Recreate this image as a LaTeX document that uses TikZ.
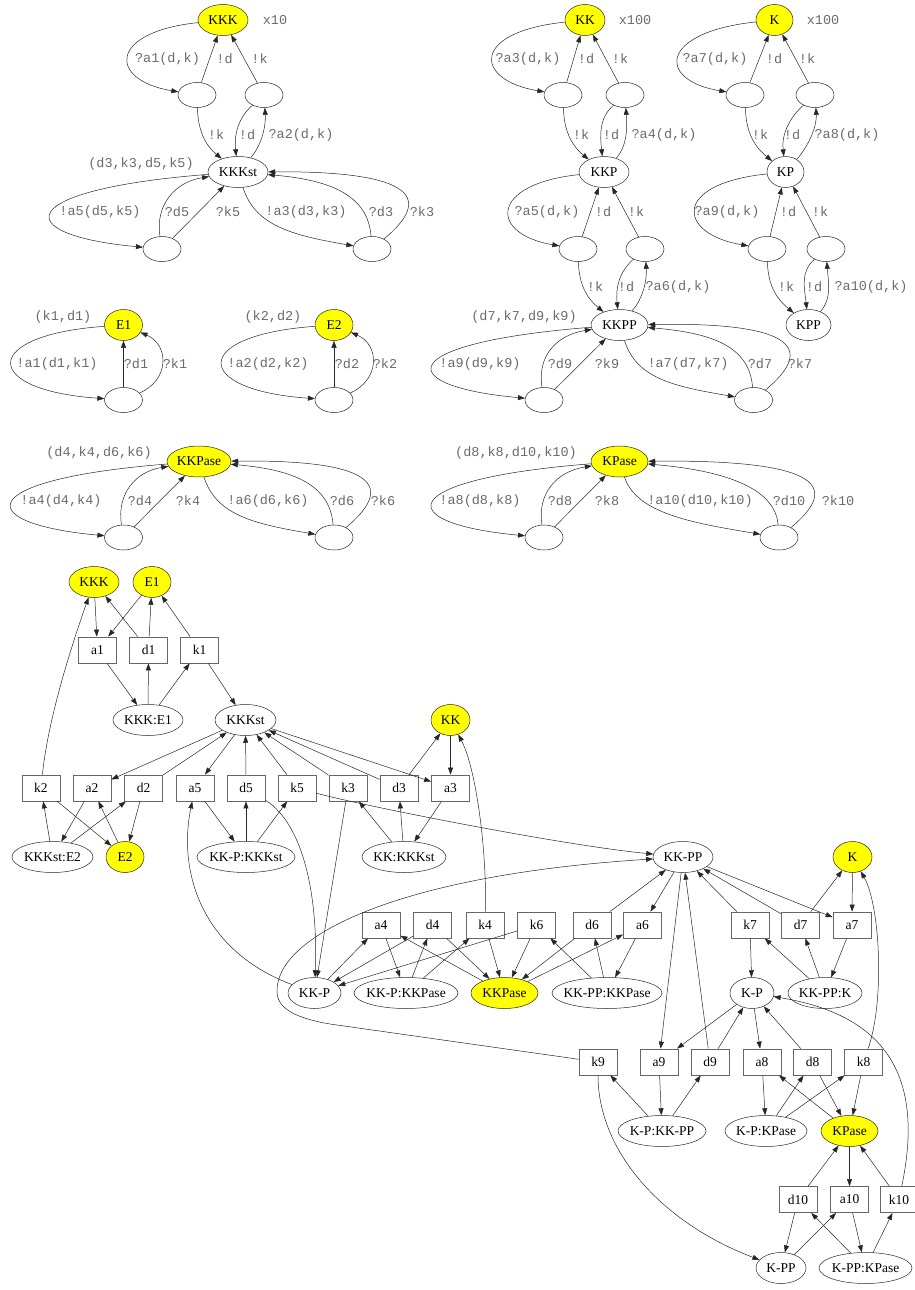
\documentclass[tikz,border=0pt]{standalone}
\usepackage{fontspec}
\setmainfont{Liberation Serif}
\newfontfamily\labfont{Liberation Mono}
\usetikzlibrary{shapes.geometric,arrows.meta,calc}
\definecolor{labgray}{gray}{0.42}
\definecolor{hi}{RGB}{255,255,0}
% zero-width text so that ellipse sizes are set by the style only
\newcommand\nt[1]{\makebox[0pt]{#1}}
\tikzset{
  base/.style={inner sep=0pt, font=\fontsize{13.5}{16}\selectfont},
  sn/.style={base, ellipse, draw=black!85, line width=0.5pt, minimum height=31pt},
  es/.style={ellipse, draw=black!85, line width=0.5pt, minimum width=38pt, minimum height=25pt, inner sep=0pt},
  yel/.style={fill=hi},
  bx/.style={base, rectangle, draw=black!60, line width=0.8pt, minimum width=38pt, minimum height=26pt},
  lab/.style={font=\labfont\fontsize{13.5}{16}\selectfont, text=labgray, inner sep=0pt},
  e/.style={draw=black!85, line width=0.5pt, -{Triangle[length=7pt,width=5pt]}},
}
% process skeletons: receive / reply pair between two states
\newcommand\uppart[4]{%
  \draw[e] (#1) .. controls ($(#1)+(-115,12)$) and ($(#2)+(-89,-15)$) .. (#2);
  \draw[e] (#2) -- (#1);
  \draw[e] (#3) -- (#1);
  \draw[e] (#2) .. controls ($(#2)+(1,35)$) and ($(#4)+(-33,-27)$) .. (#4);
  \draw[e] (#3) .. controls ($(#3)+(-26,23)$) and ($(#4)+(-4,-37)$) .. (#4);
  \draw[e] (#4) .. controls ($(#4)+(24,-27)$) and ($(#3)+(2,30)$) .. (#3);
}
% state offering two actions, each answered by two channels
\newcommand\lowpart[3]{%
  \draw[e] (#1) .. controls ($(#1)+(-228,18)$) and ($(#2)+(-152,-14)$) .. (#2);
  \draw[e] (#2) .. controls ($(#2)+(-7,-44)$) and ($(#1)+(-63,10)$) .. (#1);
  \draw[e] (#2) -- (#1);
  \draw[e] (#1) .. controls ($(#1)+(17,53)$) and ($(#3)+(-82,-14)$) .. (#3);
  \draw[e] (#3) .. controls ($(#3)+(-4,-54)$) and ($(#1)+(92,8)$) .. (#1);
  \draw[e] (#3) .. controls ($(#3)+(60,-50)$) and ($(#3)+(45,-78)$) .. (#1);
}
% enzyme: one action answered by two channels
\newcommand\epart[2]{%
  \draw[e] (#1) .. controls ($(#1)+(-143,10)$) and ($(#2)+(-143,-10)$) .. (#2);
  \draw[e] (#2) -- (#1);
  \draw[e] (#2) .. controls ($(#2)+(46,-20)$) and ($(#1)+(46,20)$) .. (#1);
}
\begin{document}
\begin{tikzpicture}[x=1pt,y=-1pt]
\useasboundingbox (0,0) rectangle (915,1290);

% ================= processes =================
% KKK
\node[sn,yel,minimum width=50pt] (tKKK) at (223,20) {\nt{KKK}};
\node[es] (tKKKa) at (197,95) {};
\node[es] (tKKKb) at (264,95) {};
\node[sn,minimum width=60pt] (tKKKst) at (238,172) {\nt{KKKst}};
\node[es] (tKKKstL) at (162,249) {};
\node[es] (tKKKstR) at (372,249) {};
\uppart{tKKK}{tKKKa}{tKKKb}{tKKKst}
\lowpart{tKKKst}{tKKKstL}{tKKKstR}
\node[lab] (l0) at (275,20) {x10};
\node[lab] (l1) at (167.5,59) {?a1(d,k)};
\node[lab] (l2) at (224.5,59) {!d};
\node[lab] (l3) at (259.5,59) {!k};
\node[lab] (l4) at (216,135) {!k};
\node[lab] (l5) at (247,135) {!d};
\node[lab] (l6) at (301,135) {?a2(d,k)};
\node[lab] (l7) at (141,164) {(d3,k3,d5,k5)};
\node[lab] (l8) at (100,212) {!a5(d5,k5)};
\node[lab] (l9) at (177,212) {?d5};
\node[lab] (l10) at (228,212) {?k5};
\node[lab] (l11) at (306,212) {!a3(d3,k3)};
\node[lab] (l12) at (381,212) {?d3};
\node[lab] (l13) at (422,212) {?k3};

% KK
\node[sn,yel,minimum width=40pt] (tKK) at (585,20) {\nt{KK}};
\node[es] (tKKa) at (563,95) {};
\node[es] (tKKb) at (625,95) {};
\node[sn,minimum width=50pt] (tKKP) at (604,172) {\nt{KKP}};
\node[es] (tKKPa) at (578,249) {};
\node[es] (tKKPb) at (645,249) {};
\node[sn,minimum width=57pt] (tKKPP) at (619.5,325) {\nt{KKPP}};
\node[es] (tKKPPL) at (544,400) {};
\node[es] (tKKPPR) at (753.5,400) {};
\uppart{tKK}{tKKa}{tKKb}{tKKP}
\uppart{tKKP}{tKKPa}{tKKPb}{tKKPP}
\lowpart{tKKPP}{tKKPPL}{tKKPPR}
\node[lab] (m0) at (635,20) {x100};
\node[lab] (m1) at (528,59) {?a3(d,k)};
\node[lab] (m2) at (586,59) {!d};
\node[lab] (m3) at (620,59) {!k};
\node[lab] (m4) at (581,135) {!k};
\node[lab] (m5) at (611,135) {!d};
\node[lab] (m6) at (664,135) {?a4(d,k)};
\node[lab] (m7) at (547,212) {?a5(d,k)};
\node[lab] (m8) at (603,212) {!d};
\node[lab] (m9) at (636,212) {!k};
\node[lab] (m10) at (595,287) {!k};
\node[lab] (m11) at (626,287) {!d};
\node[lab] (m12) at (678,287) {?a6(d,k)};
\node[lab] (m13) at (524,317) {(d7,k7,d9,k9)};
\node[lab] (m14) at (480,364) {!a9(d9,k9)};
\node[lab] (m15) at (560,364) {?d9};
\node[lab] (m16) at (607,364) {?k9};
\node[lab] (m17) at (688,364) {!a7(d7,k7)};
\node[lab] (m18) at (760,364) {?d7};
\node[lab] (m19) at (800,364) {?k7};

% K
\node[sn,yel,minimum width=37pt] (tK) at (774.5,20) {\nt{K}};
\node[es] (tKa) at (745,95) {};
\node[es] (tKb) at (815,95) {};
\node[sn,minimum width=37pt] (tKP) at (785.5,172) {\nt{KP}};
\node[es] (tKPa) at (767,249) {};
\node[es] (tKPb) at (826,249) {};
\node[sn,minimum width=45pt] (tKPP) at (808.5,325) {\nt{KPP}};
\uppart{tK}{tKa}{tKb}{tKP}
\uppart{tKP}{tKPa}{tKPb}{tKPP}
\node[lab] (n0) at (823,20) {x100};
\node[lab] (n1) at (715,59) {?a7(d,k)};
\node[lab] (n2) at (774,59) {!d};
\node[lab] (n3) at (807,59) {!k};
\node[lab] (n4) at (760,135) {!k};
\node[lab] (n5) at (792,135) {!d};
\node[lab] (n6) at (847,135) {?a8(d,k)};
\node[lab] (n7) at (727,212) {?a9(d,k)};
\node[lab] (n8) at (788,212) {!d};
\node[lab] (n9) at (820,212) {!k};
\node[lab] (n10) at (786,287) {!k};
\node[lab] (n11) at (814,287) {!d};
\node[lab] (n12) at (871,287) {?a10(d,k)};

% E1, E2
\node[sn,yel,minimum width=38pt] (tE1) at (123.5,325) {\nt{E1}};
\node[es] (tE1b) at (123.5,400) {};
\node[sn,yel,minimum width=38pt] (tE2) at (334,325) {\nt{E2}};
\node[es] (tE2b) at (334,400) {};
\epart{tE1}{tE1b}
\epart{tE2}{tE2b}
\node[lab] (p0) at (63,317) {(k1,d1)};
\node[lab] (p1) at (57,364) {!a1(d1,k1)};
\node[lab] (p2) at (136,364) {?d1};
\node[lab] (p3) at (175,364) {?k1};
\node[lab] (p4) at (273,317) {(k2,d2)};
\node[lab] (p5) at (268,364) {!a2(d2,k2)};
\node[lab] (p6) at (347,364) {?d2};
\node[lab] (p7) at (385,364) {?k2};

% KKPase, KPase
\node[sn,yel,minimum width=64pt] (tKKPase) at (199,461.5) {\nt{KKPase}};
\node[es] (tKKPaseL) at (123.5,537.5) {};
\node[es] (tKKPaseR) at (334,537.5) {};
\lowpart{tKKPase}{tKKPaseL}{tKKPaseR}
\node[sn,yel,minimum width=57pt] (tKPase) at (619.5,461.5) {\nt{KPase}};
\node[es] (tKPaseL) at (544,537.5) {};
\node[es] (tKPaseR) at (779,537.5) {};
\lowpart{tKPase}{tKPaseL}{tKPaseR}
\node[lab] (q0) at (99,453) {(d4,k4,d6,k6)};
\node[lab] (q1) at (61,501) {!a4(d4,k4)};
\node[lab] (q2) at (140,501) {?d4};
\node[lab] (q3) at (188,501) {?k4};
\node[lab] (q4) at (268,501) {!a6(d6,k6)};
\node[lab] (q5) at (342,501) {?d6};
\node[lab] (q6) at (383,501) {?k6};
\node[lab] (r0) at (516,453) {(d8,k8,d10,k10)};
\node[lab] (r1) at (480,501) {!a8(d8,k8)};
\node[lab] (r2) at (560,501) {?d8};
\node[lab] (r3) at (607,501) {?k8};
\node[lab] (r4) at (700,501) {!a10(d10,k10)};
\node[lab] (r5) at (789,501) {?d10};
\node[lab] (r6) at (838,501) {?k10};

% ================= reaction network =================
\node[sn,yel,minimum width=50pt] (gKKK) at (94,582) {\nt{KKK}};
\node[sn,yel,minimum width=38pt] (gE1) at (152,582) {\nt{E1}};
\node[bx] (ga1) at (97.5,650) {a1};
\node[bx] (gd1) at (148.5,650) {d1};
\node[bx] (gk1) at (199.5,650) {k1};
\node[sn,minimum width=70pt] (gKKKE1) at (148,720) {\nt{KKK:E1}};
\node[sn,minimum width=61pt] (gKKKst) at (245.5,720) {\nt{KKKst}};
\node[sn,yel,minimum width=39pt] (gKK) at (450.5,720) {\nt{KK}};
\node[bx] (gk2) at (41,788) {k2};
\node[bx] (ga2) at (92,788) {a2};
\node[bx] (gd2) at (143.5,788) {d2};
\node[bx] (ga5) at (195,788) {a5};
\node[bx] (gd5) at (246,788) {d5};
\node[bx] (gk5) at (297,788) {k5};
\node[bx] (gk3) at (348,788) {k3};
\node[bx] (gd3) at (399,788) {d3};
\node[bx] (ga3) at (450.5,788) {a3};
\node[sn,minimum width=81pt] (gKKKstE2) at (52.5,857) {\nt{KKKst:E2}};
\node[sn,yel,minimum width=38pt] (gE2) at (125,857) {\nt{E2}};
\node[sn,minimum width=98pt] (gKKPKKKst) at (246,857) {\nt{KK-P:KKKst}};
\node[sn,minimum width=84pt] (gKKKKKst) at (404,857) {\nt{KK:KKKst}};
\node[sn,minimum width=60pt] (gKKPP) at (683,857) {\nt{KK-PP}};
\node[sn,yel,minimum width=39pt] (gK) at (852.5,857) {\nt{K}};
\node[bx] (ga4) at (381,925) {a4};
\node[bx] (gd4) at (432.5,925) {d4};
\node[bx] (gk4) at (485,925) {k4};
\node[bx] (gk6) at (536.5,925) {k6};
\node[bx] (gd6) at (592,925) {d6};
\node[bx] (ga6) at (642.5,925) {a6};
\node[bx] (gk7) at (750,925) {k7};
\node[bx] (gd7) at (800.5,925) {d7};
\node[bx] (ga7) at (852,925) {a7};
\node[sn,minimum width=53pt] (gKKP) at (314.5,993) {\nt{KK-P}};
\node[sn,minimum width=104pt] (gKKPKKPase) at (406,993) {\nt{KK-P:KKPase}};
\node[sn,yel,minimum width=67pt] (gKKPase) at (504.5,993) {\nt{KKPase}};
\node[sn,minimum width=110pt] (gKKPPKKPase) at (607,993) {\nt{KK-PP:KKPase}};
\node[sn,minimum width=44pt] (gKP) at (752,993) {\nt{K-P}};
\node[sn,minimum width=74pt] (gKKPPK) at (825,993) {\nt{KK-PP:K}};
\node[bx] (gk9) at (598,1062) {k9};
\node[bx] (ga9) at (659,1062) {a9};
\node[bx] (gd9) at (710,1062) {d9};
\node[bx] (ga8) at (762,1062) {a8};
\node[bx] (gd8) at (812.5,1062) {d8};
\node[bx] (gk8) at (863.5,1062) {k8};
\node[sn,minimum width=88pt] (gKPKKPP) at (662,1131) {\nt{K-P:KK-PP}};
\node[sn,minimum width=82pt] (gKPKPase) at (766,1131) {\nt{K-P:KPase}};
\node[sn,yel,minimum width=57pt] (gKPase) at (849.5,1131) {\nt{KPase}};
\node[bx] (gd10) at (798,1199.5) {d10};
\node[bx] (ga10) at (849.5,1199.5) {a10};
\node[bx] (gk10) at (899,1199.5) {k10};
\node[sn,minimum width=50pt] (gKPP) at (781,1268) {\nt{K-PP}};
\node[sn,minimum width=93pt] (gKPPKPase) at (865.5,1268) {\nt{K-PP:KPase}};

% KKK / E1 complex
\draw[e] (gKKK) -- (ga1);
\draw[e] (gE1) -- (ga1);
\draw[e] (gd1) -- (gKKK);
\draw[e] (gd1) -- (gE1);
\draw[e] (gk1) -- (gE1);
\draw[e] (ga1) -- (gKKKE1);
\draw[e] (gKKKE1) -- (gd1);
\draw[e] (gKKKE1) -- (gk1);
\draw[e] (gk1) -- (gKKKst);
\draw[e] (gk2) .. controls (48,720) and (70,650) .. (gKKK);
% KKKst with E2, KK and KK-P
\draw[e] (gKKKst) -- (ga2);
\draw[e] (gd2) -- (gKKKst);
\draw[e] (gKKKst) -- (ga5);
\draw[e] (gd5) -- (gKKKst);
\draw[e] (gk5) -- (gKKKst);
\draw[e] (gk3) -- (gKKKst);
\draw[e] (gd3) -- (gKKKst);
\draw[e] (gKKKst) -- (ga3);
\draw[e] (gd3) -- (gKK);
\draw[e] (gKK) -- (ga3);
\draw[e] (gk4) .. controls (487,850) and (476,768) .. (gKK);
\draw[e] (gk2) -- (gE2);
\draw[e] (gKKKstE2) -- (gk2);
\draw[e] (ga2) -- (gKKKstE2);
\draw[e] (gKKKstE2) -- (gd2);
\draw[e] (gE2) -- (ga2);
\draw[e] (gd2) -- (gE2);
\draw[e] (ga5) -- (gKKPKKKst);
\draw[e] (gKKPKKKst) -- (gd5);
\draw[e] (gKKPKKKst) -- (gk5);
\draw[e] (gd5) .. controls (305,825) and (318,900) .. (gKKP);
\draw[e] (gk3) -- (gKKP);
\draw[e] (gKKKKKst) -- (gk3);
\draw[e] (gKKKKKst) -- (gd3);
\draw[e] (ga3) -- (gKKKKKst);
\draw[e] (gk5) .. controls (360,805) and (560,845) .. (gKKPP);
\draw[e] (gKKP) .. controls (200,950) and (178,870) .. (ga5);
\draw[e] (gk9) -- (330,1024) .. controls (295,1018) and (276,1008) .. (277,990)
          .. controls (278,935) and (400,875) .. (gKKPP);
% KK-P / KK-PP with KKPase
\draw[e] (gKKP) -- (ga4);
\draw[e] (gd4) -- (gKKP);
\draw[e] (gk6) -- (gKKP);
\draw[e] (ga4) -- (gKKPKKPase);
\draw[e] (gKKPKKPase) -- (gd4);
\draw[e] (gKKPKKPase) -- (gk4);
\draw[e] (gKKPase) -- (ga4);
\draw[e] (gd4) -- (gKKPase);
\draw[e] (gk4) -- (gKKPase);
\draw[e] (gk6) -- (gKKPase);
\draw[e] (gd6) -- (gKKPase);
\draw[e] (gKKPase) -- (ga6);
\draw[e] (gKKPPKKPase) -- (gk6);
\draw[e] (gKKPPKKPase) -- (gd6);
\draw[e] (ga6) -- (gKKPPKKPase);
\draw[e] (gd6) -- (gKKPP);
\draw[e] (gKKPP) -- (ga6);
% KK-PP with K and K-P
\draw[e] (gKKPP) -- (ga9);
\draw[e] (gd9) -- (gKKPP);
\draw[e] (gk7) -- (gKKPP);
\draw[e] (gd7) -- (gKKPP);
\draw[e] (gKKPP) -- (ga7);
\draw[e] (gd7) -- (gK);
\draw[e] (gK) -- (ga7);
\draw[e] (gk8) .. controls (885,1000) and (880,905) .. (gK);
\draw[e] (gk7) -- (gKP);
\draw[e] (gKKPPK) -- (gk7);
\draw[e] (gKKPPK) -- (gd7);
\draw[e] (ga7) -- (gKKPPK);
\draw[e] (gKP) -- (ga9);
\draw[e] (gd9) -- (gKP);
\draw[e] (gKP) -- (ga8);
\draw[e] (gd8) -- (gKP);
\draw[e] (gk10) .. controls (925,1075) and (885,1015) .. (gKP);
% K-P / K-PP with KPase
\draw[e] (gk9) .. controls (598,1150) and (660,1222) .. (gKPP);
\draw[e] (gKPKKPP) -- (gk9);
\draw[e] (ga9) -- (gKPKKPP);
\draw[e] (gKPKKPP) -- (gd9);
\draw[e] (ga8) -- (gKPKPase);
\draw[e] (gKPKPase) -- (gd8);
\draw[e] (gKPKPase) -- (gk8);
\draw[e] (gKPase) -- (ga8);
\draw[e] (gd8) -- (gKPase);
\draw[e] (gk8) -- (gKPase);
\draw[e] (gd10) -- (gKPase);
\draw[e] (gKPase) -- (ga10);
\draw[e] (gk10) -- (gKPase);
\draw[e] (gd10) -- (gKPP);
\draw[e] (gKPP) -- (ga10);
\draw[e] (gKPPKPase) -- (gd10);
\draw[e] (ga10) -- (gKPPKPase);
\draw[e] (gKPPKPase) -- (gk10);
\end{tikzpicture}
\end{document}
